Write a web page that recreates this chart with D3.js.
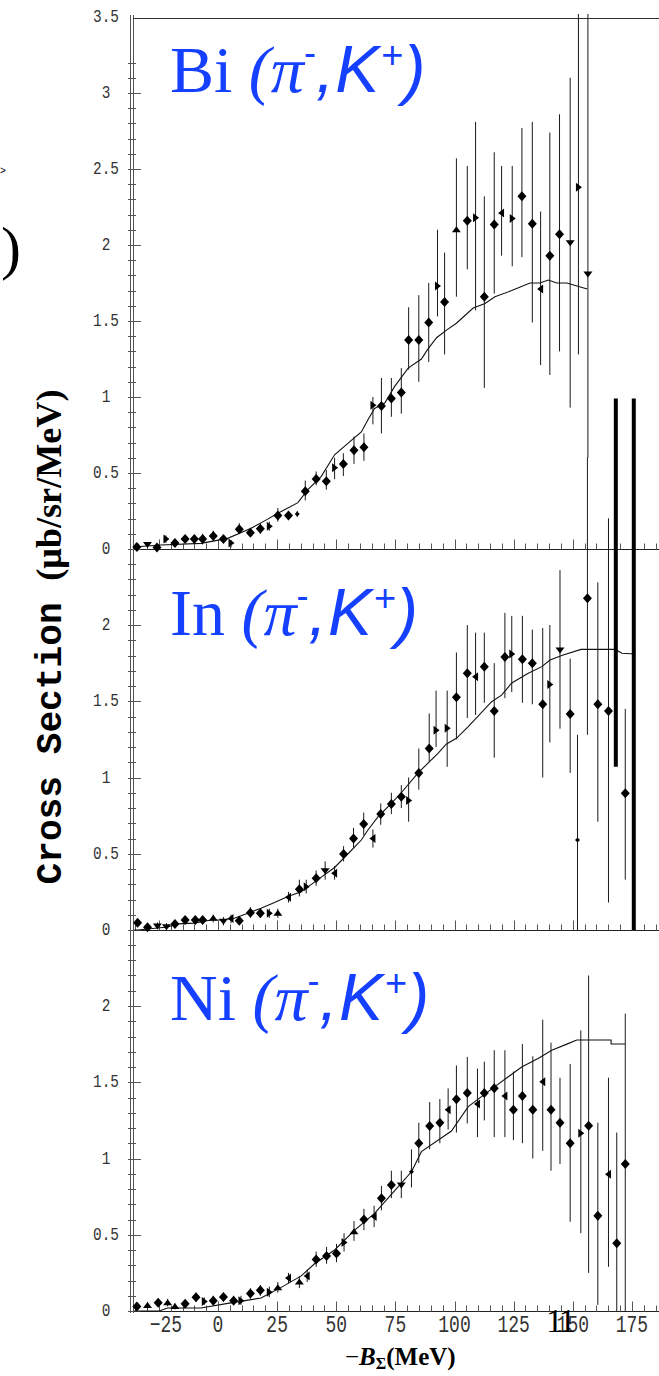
<!DOCTYPE html>
<html><head><meta charset="utf-8">
<script src="https://cdn.jsdelivr.net/npm/d3@7"></script>
<style>body{margin:0;background:#fff}svg{display:block}</style>
</head><body><svg id="c" width="659" height="1376"></svg>
<script>
// ---------- data ----------
const xTickLabels = [-25, 0, 25, 50, 75, 100, 125, 150, 175];
const biYTicks = [0, 0.5, 1, 1.5, 2, 2.5, 3, 3.5];
const inYTicks = [0, 0.5, 1, 1.5, 2];
const niYTicks = [0, 0.5, 1, 1.5, 2];

// [ -B (MeV), value, lower, upper ]
const biPoints = [
 [-34.3,0.013,0.0,0.03],[-29.8,0.03,0.01,0.045],[-25.8,0.01,0.0,0.03],[-22.0,0.065,0.04,0.09],
 [-18.2,0.04,0.015,0.065],[-13.9,0.065,0.04,0.09],[-10.0,0.065,0.04,0.09],[-6.5,0.065,0.03,0.10],
 [-2.0,0.085,0.05,0.12],[2.3,0.065,0.04,0.09],[5.5,0.04,0.01,0.06],[9.0,0.13,0.10,0.17],
 [13.7,0.107,0.08,0.14],[17.9,0.134,0.10,0.17],[21.7,0.15,0.12,0.18],[25.3,0.22,0.18,0.27],
 [29.8,0.22,0.19,0.25],[33.5,0.23,0.21,0.25],[36.9,0.38,0.32,0.45],[41.5,0.46,0.42,0.51],
 [45.8,0.445,0.39,0.52],[49.3,0.535,0.46,0.60],[53.0,0.56,0.48,0.63],[57.5,0.65,0.56,0.74],
 [61.7,0.67,0.58,0.76],[65.5,0.945,0.82,1.00],[69.1,0.94,0.76,1.125],[73.3,0.99,0.87,1.125],
 [77.5,1.03,0.89,1.19],[80.6,1.375,1.18,1.59],[84.9,1.375,1.10,1.67],[89.1,1.49,1.23,1.75],
 [92.8,1.73,1.53,2.10],[95.8,1.625,1.28,1.95],[100.8,2.10,1.66,2.57],[105.4,2.16,1.84,2.52],
 [108.9,2.18,1.57,2.81],[112.6,1.66,1.06,2.32],[116.8,2.135,1.68,2.61],[119.9,2.21,1.93,2.52],
 [124.4,2.175,1.86,2.52],[128.5,2.32,1.92,2.77],[132.9,2.14,1.49,2.81],[136.4,1.71,1.21,2.22],
 [140.3,1.93,1.145,2.74],[144.4,2.07,1.30,2.86],[148.9,2.015,0.93,3.10],[152.4,2.38,1.28,3.52],
 [156.4,1.81,0.60,3.52]
];
const biMarkers = "dvdrddddddrdddrddsdddrdddrddddddrdudrddlrddlddvrv".split("");
const biTheory = [
 [-35.5,0.015],[-34.3,0.015],[-24.2,0.026],[-7.2,0.037],[4.1,0.07],[14.0,0.136],[20.3,0.19],
 [25.3,0.235],[33.8,0.305],[38.0,0.39],[43.6,0.476],[49.3,0.62],[54.9,0.695],[60.6,0.77],
 [63.4,0.85],[66.2,0.925],[70.5,0.96],[74.7,1.07],[80.4,1.19],[86.0,1.25],[88.5,1.31],
 [92.4,1.39],[96.6,1.44],[100.8,1.485],[107.9,1.585],[112.9,1.615],[117.1,1.66],[124.2,1.70],
 [131.9,1.75],[136.1,1.75],[139.7,1.77],[143.2,1.75],[147.5,1.75],[156.1,1.71]
];

const inPoints = [
 [-34.0,0.048,0.02,0.07],[-29.8,0.018,0.0,0.04],[-25.6,0.026,0.005,0.05],[-21.8,0.022,0.0,0.045],
 [-18.2,0.04,0.015,0.065],[-13.9,0.066,0.04,0.09],[-9.6,0.066,0.04,0.09],[-6.5,0.066,0.04,0.09],
 [-2.0,0.077,0.05,0.10],[2.3,0.057,0.03,0.085],[5.5,0.075,0.045,0.10],[9.0,0.061,0.035,0.09],
 [13.7,0.113,0.08,0.15],[17.9,0.11,0.08,0.14],[21.7,0.11,0.08,0.14],[25.3,0.11,0.08,0.14],
 [29.8,0.214,0.18,0.25],[34.4,0.267,0.22,0.33],[37.3,0.284,0.24,0.33],[41.5,0.339,0.29,0.39],
 [45.3,0.389,0.33,0.45],[49.3,0.372,0.33,0.42],[53.1,0.498,0.45,0.55],[57.3,0.60,0.54,0.67],
 [61.6,0.695,0.62,0.77],[65.5,0.60,0.54,0.66],[68.8,0.761,0.69,0.83],[73.3,0.826,0.76,0.90],
 [77.5,0.874,0.80,0.95],[80.6,0.85,0.71,1.00],[84.9,1.03,0.92,1.19],[89.3,1.19,1.10,1.42],
 [92.2,1.31,1.20,1.57],[96.9,1.323,1.07,1.57],[100.8,1.526,1.25,1.82],[105.4,1.683,1.39,2.00],
 [108.9,1.66,1.41,1.95],[112.6,1.727,1.49,1.95],[116.8,1.436,1.13,1.75],[121.3,1.79,1.52,2.08],
 [124.2,1.81,1.56,2.06],[128.7,1.775,1.49,2.06],[132.9,1.75,1.48,1.97],[137.3,1.48,1.00,1.98],
 [140.3,1.61,1.23,2.00],[144.6,1.836,1.32,2.36],[148.9,1.416,1.03,1.78],[152.0,0.59,0.00,1.28],
 [156.2,2.175,1.28,3.10],[160.6,1.48,0.71,2.28],[165.1,1.436,0.18,2.70],[172.2,0.896,0.33,1.45]
];
const inMarkers = "ddvvdddduvldddruldrdvldddldddrddrrddldddrdddrvdsdddd".split("");
const inTheory = [
 [-35.5,0],[-34.0,0],[-21.3,0.02],[-17.1,0.04],[-10.0,0.045],[-3.0,0.066],[1.3,0.066],[6.9,0.077],
 [12.6,0.11],[18.2,0.142],[23.9,0.18],[29.5,0.22],[35.2,0.25],[42.2,0.33],[49.3,0.41],[55.0,0.50],
 [60.6,0.59],[63.4,0.656],[67.7,0.743],[73.3,0.83],[77.5,0.90],[84.6,1.03],[93.1,1.16],[96.6,1.22],
 [100.8,1.257],[105.8,1.333],[115.7,1.497],[119.9,1.54],[124.2,1.62],[131.2,1.683],[136.9,1.727],
 [140.4,1.77],[145.3,1.80],[153.5,1.84],[167.9,1.84],[170.8,1.815],[176.4,1.81]
];

const niPoints = [
 [-34.3,0.029,0.01,0.05],[-29.8,0.036,0.015,0.06],[-25.3,0.054,0.03,0.08],[-21.3,0.054,0.03,0.08],
 [-18.2,0.03,0.01,0.05],[-13.9,0.048,0.025,0.07],[-9.3,0.09,0.06,0.12],[-5.8,0.063,0.04,0.09],
 [-2.0,0.068,0.04,0.10],[2.3,0.092,0.06,0.12],[6.6,0.068,0.04,0.10],[9.7,0.068,0.04,0.10],
 [13.7,0.115,0.08,0.15],[17.9,0.136,0.10,0.17],[21.7,0.123,0.09,0.16],[25.3,0.152,0.12,0.19],
 [29.8,0.217,0.18,0.25],[34.4,0.19,0.15,0.23],[37.7,0.229,0.19,0.27],[41.5,0.338,0.29,0.39],
 [45.9,0.36,0.31,0.42],[50.1,0.377,0.32,0.44],[53.3,0.45,0.39,0.51],[57.5,0.52,0.46,0.59],
 [61.7,0.60,0.53,0.67],[66.0,0.62,0.55,0.69],[69.1,0.74,0.66,0.82],[73.3,0.827,0.74,0.92],
 [77.5,0.827,0.74,0.92],[81.8,0.913,0.81,1.06],[84.9,1.10,0.97,1.235],[89.5,1.213,1.06,1.37],
 [93.8,1.235,1.10,1.39],[97.3,1.32,1.19,1.46],[100.8,1.388,1.17,1.61],[105.4,1.43,1.23,1.666],
 [109.7,1.357,1.14,1.59],[112.6,1.43,1.25,1.635],[116.8,1.46,1.14,1.71],[121.3,1.41,1.14,1.71],
 [124.9,1.32,1.12,1.57],[128.7,1.41,1.10,1.75],[133.1,1.32,1.00,1.67],[137.3,1.503,1.05,1.91],
 [140.8,1.32,0.92,1.76],[144.6,1.235,0.964,1.53],[148.9,1.10,0.585,1.62],[153.4,1.165,0.51,1.84],
 [156.7,1.215,0.25,2.20],[160.6,0.625,0.04,1.235],[165.1,0.896,0.29,1.53],[168.6,0.444,0.00,1.17],
 [172.2,0.964,0.00,1.95]
];
const niMarkers = "duduuddrdddrddrululdddrudlddvsdddlddlddldddldddrddld".split("");
const niTheory = [
 [-35.5,0],[-24.9,0],[-21.3,0.02],[-7.2,0.02],[4.1,0.05],[18.2,0.085],[26.7,0.155],[35.2,0.23],
 [40.8,0.31],[49.3,0.40],[57.8,0.53],[66.2,0.64],[74.7,0.79],[81.8,0.913],[86.0,1.045],[98.7,1.18],
 [105.8,1.34],[116.9,1.47],[128.4,1.60],[135.5,1.657],[141.1,1.71],[147.5,1.75],[151.7,1.777],
 [166.2,1.777],[166.2,1.751],[172.2,1.751]
];

// heavy bars crossing Bi -> In panels: [ -B, top (Bi scale), bottom (In scale) ]
const thickBars = [[168.2, 0.99, 1.07], [175.8, 0.99, 0.0]];

// ---------- drawing ----------
const svg = d3.select("#c");
const x = d3.scaleLinear().domain([0, 175]).range([218, 631.9]);
const yBi = d3.scaleLinear().domain([0, 3.5]).range([549, 17]);
const yIn = d3.scaleLinear().domain([0, 2.5]).range([930, 548.75]);
const yNi = d3.scaleLinear().domain([0, 2.5]).range([1311, 929.75]);

const blue = "#1540ff";
const panels = [
  {name:"Bi", pts:biPoints, mk:biMarkers, th:biTheory, y:yBi, ticks:biYTicks, minorMax:3.2, titleY:92},
  {name:"In", pts:inPoints, mk:inMarkers, th:inTheory, y:yIn, ticks:inYTicks, minorMax:2.45, titleY:635},
  {name:"Ni", pts:niPoints, mk:niMarkers, th:niTheory, y:yNi, ticks:niYTicks, minorMax:2.45, titleY:1020}
];

const shapes = {
  d: "M0,-5L4.5,0L0,5L-4.5,0Z",
  s: "M0,-2.5L2.5,0L0,2.5L-2.5,0Z",
  r: "M-2.5,-4.5L3.5,0L-2.5,4.5Z",
  l: "M2.5,-4.5L-3.5,0L2.5,4.5Z",
  u: "M-4.5,2.5L0,-3.5L4.5,2.5Z",
  v: "M-4.5,-2.5L0,3.5L4.5,-2.5Z"
};

const axisG = svg.append("g");
[130.5, 133.5].forEach(px => axisG.append("line").attr("x1", px).attr("x2", px)
  .attr("y1", 15).attr("y2", 1313).attr("stroke", "#555").attr("stroke-width", 1));
axisG.append("line").attr("x1", 133).attr("x2", 659).attr("y1", 18.5).attr("y2", 18.5)
  .attr("stroke", "#333").attr("stroke-width", 1.2);

const minorX = d3.range(-35, 190, 5);
panels.forEach(p => {
  const y0 = Math.round(p.y(0)) + 0.5;
  axisG.append("line").attr("x1", 128).attr("x2", 659).attr("y1", y0).attr("y2", y0)
    .attr("stroke", "#222").attr("stroke-width", 1.2);
  axisG.selectAll(null).data(minorX).join("line")
    .attr("x1", d => Math.round(x(d)) + 0.5).attr("x2", d => Math.round(x(d)) + 0.5)
    .attr("y1", y0).attr("y2", d => y0 - (d % 25 === 0 ? 10 : 6))
    .attr("stroke", "#555").attr("stroke-width", 1);
  const yt = d3.range(0, p.minorMax + 0.001, 0.1).map(v => +v.toFixed(1));
  axisG.selectAll(null).data(yt).join("line")
    .attr("x1", 128).attr("x2", d => (Math.abs(d * 2 - Math.round(d * 2)) < 1e-6) ? 141 : 136)
    .attr("y1", d => Math.round(p.y(d)) + 0.5).attr("y2", d => Math.round(p.y(d)) + 0.5)
    .attr("stroke", "#555").attr("stroke-width", 1);
  axisG.selectAll(null).data(p.ticks).join("text")
    .attr("transform", d => `translate(106,${p.y(d) + 5}) scale(0.8,1)`)
    .attr("text-anchor", "middle").attr("font-family", "Liberation Mono")
    .attr("font-size", 18).attr("fill", "#333").text(d => String(d));
});

axisG.selectAll(null).data(xTickLabels).join("text")
  .attr("transform", d => `translate(${x(d) + (d < 0 ? 7 : 0)},1332) scale(0.75,1)`)
  .attr("text-anchor", "middle").attr("font-family", "Liberation Mono")
  .attr("font-size", 24).attr("fill", "#333").text(d => d < 0 ? "\u2212" + Math.abs(d) : String(d));

const line = d3.line();
panels.forEach(p => {
  const g = svg.append("g");
  g.append("path").attr("d", line(p.th.map(d => [x(d[0]), p.y(d[1])])))
    .attr("fill", "none").attr("stroke", "#111").attr("stroke-width", 1.1);
  g.selectAll(null).data(p.pts).join("line")
    .attr("x1", d => x(d[0])).attr("x2", d => x(d[0]))
    .attr("y1", d => p.y(d[2])).attr("y2", d => p.y(d[3]))
    .attr("stroke", "#1a1a1a").attr("stroke-width", 1);
  g.selectAll(null).data(p.pts).join("path")
    .attr("d", (d, i) => shapes[p.mk[i]] || shapes.d)
    .attr("transform", d => `translate(${x(d[0])},${p.y(d[1])})`)
    .attr("fill", "#000");
});

svg.selectAll(null).data(thickBars).join("line")
  .attr("x1", d => x(d[0])).attr("x2", d => x(d[0]))
  .attr("y1", d => yBi(d[1])).attr("y2", d => yIn(d[2]))
  .attr("stroke", "#000").attr("stroke-width", 4);

panels.forEach(p => {
  const t = svg.append("text").attr("x", 170).attr("y", p.titleY).attr("fill", blue)
    .attr("font-size", 66);
  t.append("tspan").attr("font-family", "Liberation Serif").text(p.name + " ");
  t.append("tspan").attr("font-family", "Liberation Serif").attr("font-style", "italic").text("(\u03c0");
  t.append("tspan").attr("font-family", "Liberation Sans").attr("font-size", 36)
    .attr("dx", 0).attr("dy", -27).text("-");
  t.append("tspan").attr("font-family", "Liberation Sans").attr("font-style", "italic")
    .attr("dy", 27).attr("dx", 0).text(",");
  t.append("tspan").attr("font-family", "Liberation Sans").attr("font-style", "italic").attr("dx", 1).text("K");
  t.append("tspan").attr("font-family", "Liberation Sans").attr("font-size", 38)
    .attr("dy", -24).attr("dx", 2).text("+");
  t.append("tspan").attr("font-family", "Liberation Sans").attr("font-style", "italic")
    .attr("dy", 24).attr("dx", 0).text(")");
});

const yt = svg.append("text").attr("transform", "translate(61,637) rotate(-90)")
  .attr("text-anchor", "middle").attr("font-size", 36).attr("font-weight", "bold").attr("fill", "#000")
  .attr("textLength", 495).attr("lengthAdjust", "spacingAndGlyphs");
yt.append("tspan").attr("font-family", "Liberation Mono").text("Cross Section ");
yt.append("tspan").attr("font-family", "Liberation Serif").text("(\u03bcb/sr/MeV)");

const xt = svg.append("text").attr("x", 345).attr("y", 1365).attr("font-family", "Liberation Serif")
  .attr("font-size", 25).attr("font-weight", "bold").attr("fill", "#000");
xt.append("tspan").attr("font-weight", "normal").text("\u2212");
xt.append("tspan").attr("font-style", "italic").text("B");
xt.append("tspan").attr("font-size", 16).attr("dy", 4).text("\u03a3");
xt.append("tspan").attr("dy", -4).text("(MeV)");

svg.append("text").attr("x", 546).attr("y", 1332).attr("font-family", "Liberation Serif")
  .attr("font-size", 34).attr("letter-spacing", -3).attr("fill", "#000").text("11");
svg.append("text").attr("x", 1).attr("y", 268).attr("font-family", "Liberation Serif")
  .attr("font-size", 60).attr("fill", "#000").text(")");
svg.append("text").attr("x", 0).attr("y", 174).attr("font-family", "Liberation Sans")
  .attr("font-size", 10).attr("fill", "#000").text(">");
</script></body></html>
